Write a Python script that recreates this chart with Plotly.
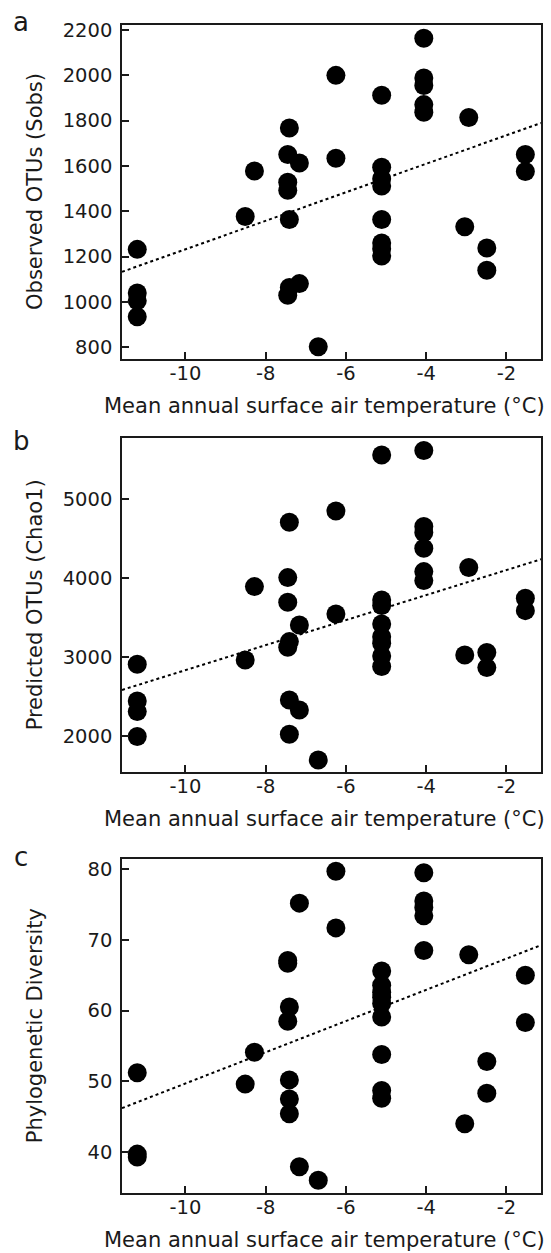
import plotly.graph_objects as go

# ---------------- data ----------------
# Panel a: Observed OTUs (Sobs)
temp_a = [-11.2, -11.2, -11.2, -11.2,
          -8.51, -8.28,
          -7.41, -7.45, -7.45, -7.45, -7.41, -7.41, -7.45,
          -7.16, -7.16, -6.69, -6.25, -6.25,
          -5.11, -5.11, -5.11, -5.11, -5.11, -5.11, -5.11, -5.11,
          -4.06, -4.06, -4.06, -4.06, -4.06,
          -3.04, -2.94, -2.49, -2.49, -1.53, -1.53]
sobs = [1232, 1040, 1005, 935,
        1377, 1577,
        1767, 1650, 1528, 1492, 1364, 1064, 1030,
        1613, 1081, 803, 1999, 1634,
        1911, 1594, 1543, 1511, 1364, 1260, 1235, 1203,
        2163, 1987, 1954, 1870, 1836,
        1332, 1813, 1238, 1140, 1650, 1575]

# Panel b: Predicted OTUs (Chao1)
temp_b = [-11.2, -11.2, -11.2, -11.2,
          -8.51, -8.28,
          -7.41, -7.45, -7.45, -7.41, -7.45, -7.41, -7.41,
          -7.16, -7.16, -6.69, -6.25, -6.25,
          -5.11, -5.11, -5.11, -5.11, -5.11, -5.11, -5.11, -5.11,
          -4.06, -4.06, -4.06, -4.06, -4.06, -4.06,
          -3.04, -2.94, -2.49, -2.49, -1.53, -1.53]
chao1 = [2907, 2443, 2308, 1992,
         2962, 3890,
         4705, 4004, 3692, 3194, 3122, 2456, 2021,
         3405, 2329, 1696, 4848, 3544,
         5557, 3722, 3650, 3418, 3257, 3173, 3013, 2878,
         5612, 4650, 4574, 4376, 4080, 3966,
         3025, 4131, 3055, 2865, 3743, 3586]

# Panel c: Phylogenetic Diversity
temp_c = [-11.2, -11.2, -11.2,
          -8.51, -8.28,
          -7.45, -7.45, -7.41, -7.45, -7.41, -7.41, -7.41,
          -7.16, -7.16, -6.69, -6.25, -6.25,
          -5.11, -5.11, -5.11, -5.11, -5.11, -5.11, -5.11, -5.11, -5.11,
          -4.06, -4.06, -4.06, -4.06, -4.06,
          -3.04, -2.94, -2.49, -2.49, -1.53, -1.53]
pd_div = [51.2, 39.7, 39.3,
          49.6, 54.1,
          67.1, 66.7, 60.5, 58.5, 50.2, 47.5, 45.4,
          75.2, 37.9, 36.0, 79.7, 71.7,
          65.6, 63.6, 62.6, 61.9, 61.0, 59.1, 53.8, 48.7, 47.6,
          79.5, 75.5, 74.6, 73.4, 68.5,
          44.0, 67.9, 52.8, 48.3, 65.0, 58.3]

# Linear fit parameters (slope, intercept) of the dotted trend lines
fit_a = [62.84, 1860.6]
fit_b = [158.4, 4416.6]
fit_c = [2.208, 71.77]

x_tickvals = [-10, -8, -6, -4, -2]
x_ticktext = ["-10", "-8", "-6", "-4", "-2"]
y_ticks_a = [800, 1000, 1200, 1400, 1600, 1800, 2000, 2200]
y_ticks_b = [2000, 3000, 4000, 5000]
y_ticks_c = [40, 50, 60, 70, 80]

x_title = "Mean annual surface air temperature (°C)"
y_titles = ["Observed OTUs (Sobs)", "Predicted OTUs (Chao1)", "Phylogenetic Diversity"]
panel_letters = ["a", "b", "c"]

# ---------------- figure ----------------
FONT = "DejaVu Sans, Verdana, sans-serif"
INK = "#1a1a1a"
XR = [-11.58, -1.14]
yranges = [[750, 2221], [1540, 5768], [34.2, 81.4]]
ydomains = [[0.7143, 1.0], [0.3602, 0.6462], [0.0, 0.2857]]
TOP, H = 25, 1168  # plot region top (px) and height (px)

fig = go.Figure()
panels = [(temp_a, sobs, fit_a), (temp_b, chao1, fit_b), (temp_c, pd_div, fit_c)]
for i, (xs, ys, fit) in enumerate(panels):
    sfx = "" if i == 0 else str(i + 1)
    fig.add_trace(go.Scatter(
        x=xs, y=ys, mode="markers",
        marker=dict(size=19, color="black", line=dict(width=0)),
        xaxis="x" + sfx, yaxis="y" + sfx, showlegend=False, hoverinfo="skip"))
    fig.add_trace(go.Scatter(
        x=XR, y=[fit[0] * XR[0] + fit[1], fit[0] * XR[1] + fit[1]],
        mode="lines", line=dict(color="black", width=2, dash="3px,3px"),
        xaxis="x" + sfx, yaxis="y" + sfx, showlegend=False, hoverinfo="skip"))

axis_common = dict(showline=True, mirror=True, linecolor=INK, linewidth=1.6,
                   ticks="inside", ticklen=7, tickwidth=1.5, tickcolor=INK,
                   showgrid=False, zeroline=False, automargin=False,
                   tickfont=dict(family=FONT, size=19.5, color=INK))

y_ticks = [y_ticks_a, y_ticks_b, y_ticks_c]
layout = dict(width=551, height=1253, plot_bgcolor="white", paper_bgcolor="white",
              margin=dict(l=122, r=10, t=TOP, b=1253 - TOP - H, autoexpand=False),
              showlegend=False)
for i in range(3):
    sfx = "" if i == 0 else str(i + 1)
    layout["xaxis" + sfx] = dict(axis_common, domain=[0, 1], range=XR,
                                 anchor="y" + sfx,
                                 tickvals=x_tickvals, ticktext=x_ticktext,
                                 ticklabelstandoff=-4)
    layout["yaxis" + sfx] = dict(axis_common, domain=ydomains[i], range=yranges[i],
                                 anchor="x" + sfx, tickvals=y_ticks[i],
                                 ticklabelstandoff=4)
fig.update_layout(**layout)

# axis titles and panel letters
for i in range(3):
    d0, d1 = ydomains[i]
    bottom_px = TOP + (1 - d0) * H
    fig.add_annotation(text=x_title, xref="paper", yref="paper",
                       x=0.4827, y=1 - (bottom_px + 47 - TOP) / H,
                       xanchor="center", yanchor="middle", showarrow=False,
                       font=dict(family=FONT, size=21, color=INK))
    fig.add_annotation(text=y_titles[i], xref="paper", yref="paper",
                       x=-0.2074, y=(d0 + d1) / 2, textangle=-90,
                       xanchor="center", yanchor="middle", showarrow=False,
                       font=dict(family=FONT, size=21, color=INK))

letter_y = [1.0026, 0.6438, 0.2877]
for letter, ly in zip(panel_letters, letter_y):
    fig.add_annotation(text=letter, xref="paper", yref="paper", x=-0.241, y=ly,
                       xanchor="center", yanchor="middle", showarrow=False,
                       font=dict(family=FONT, size=26, color=INK))

fig.write_html("out.html",
               config={"displayModeBar": False},
               post_script="document.body.style.margin='0';"
                           "document.body.style.overflow='hidden';")
